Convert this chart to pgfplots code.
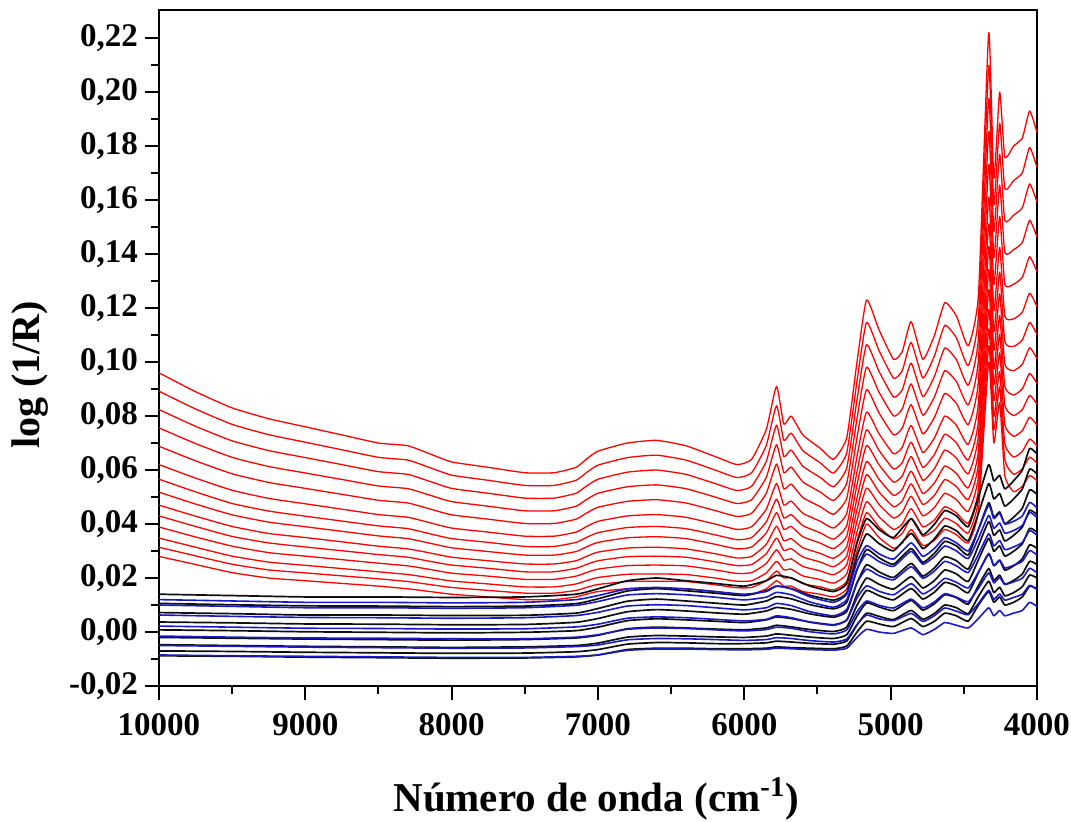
\documentclass[border=0pt]{standalone}
\usepackage{fontspec}
\setmainfont{Liberation Serif}
\usepackage{pgfplots}
\usepackage{pgfplotstable}
\pgfplotsset{compat=1.18}

% red spectra (top to bottom)
\pgfplotstableread{
x r1 r2 r3 r4 r5 r6 r7 r8 r9 r10 r11 r12 r13 r14
10000 0.096 0.0892 0.0824 0.0756 0.0688 0.062 0.0566 0.0518 0.0470 0.043 0.0389 0.0348 0.0314 0.028
9750 0.089 0.0826 0.0762 0.0698 0.0634 0.057 0.0519 0.0474 0.0429 0.0391 0.0352 0.0314 0.0282 0.025
9500 0.083 0.0769 0.0708 0.0647 0.0586 0.0525 0.0476 0.0434 0.0391 0.0354 0.0318 0.0281 0.0251 0.022
9250 0.079 0.0731 0.0672 0.0613 0.0554 0.0495 0.0448 0.0407 0.0365 0.033 0.0294 0.0259 0.023 0.020
9000 0.076 0.0703 0.0646 0.0589 0.0532 0.0475 0.0429 0.039 0.035 0.0315 0.0281 0.0247 0.0219 0.019
8750 0.073 0.0675 0.062 0.0565 0.051 0.0455 0.0411 0.0373 0.0334 0.0301 0.0268 0.0235 0.0208 0.018
8500 0.070 0.0647 0.0594 0.0541 0.0488 0.0435 0.0393 0.0356 0.0318 0.0287 0.0255 0.0223 0.0197 0.017
8300 0.069 0.0637 0.0584 0.0531 0.0478 0.0425 0.0383 0.0346 0.0308 0.0277 0.0245 0.0213 0.0187 0.016
8150 0.066 0.0609 0.0558 0.0507 0.0456 0.0405 0.0364 0.0329 0.0293 0.0262 0.0232 0.0201 0.0176 0.015
8000 0.063 0.0581 0.0532 0.0483 0.0434 0.0385 0.0346 0.0312 0.0277 0.0248 0.0218 0.0189 0.0165 0.014
7750 0.061 0.0562 0.0514 0.0466 0.0418 0.037 0.0332 0.0298 0.0264 0.0236 0.0207 0.0178 0.0154 0.013
7500 0.059 0.0543 0.0496 0.0449 0.0402 0.0355 0.0317 0.0285 0.0252 0.0223 0.0195 0.0167 0.0144 0.012
7300 0.059 0.0543 0.0496 0.0449 0.0402 0.0355 0.0317 0.0285 0.0252 0.0223 0.0195 0.0167 0.0144 0.012
7150 0.061 0.0562 0.0514 0.0466 0.0418 0.037 0.0332 0.0298 0.0264 0.0236 0.0207 0.0178 0.0154 0.013
7080 0.064 0.059 0.054 0.049 0.044 0.039 0.035 0.0315 0.028 0.025 0.022 0.019 0.0165 0.014
7000 0.067 0.0618 0.0566 0.0514 0.0462 0.041 0.0368 0.0332 0.0296 0.0264 0.0233 0.0202 0.0176 0.015
6800 0.070 0.0646 0.0592 0.0538 0.0484 0.043 0.0387 0.0349 0.0311 0.0279 0.0246 0.0214 0.0187 0.016
6600 0.071 0.0655 0.06 0.0545 0.049 0.0435 0.0391 0.0353 0.0314 0.0281 0.0248 0.0215 0.0188 0.016
6400 0.069 0.0637 0.0584 0.0531 0.0478 0.0425 0.0383 0.0346 0.0308 0.0277 0.0245 0.0213 0.0187 0.016
6200 0.065 0.06 0.055 0.05 0.045 0.04 0.036 0.0325 0.029 0.026 0.023 0.02 0.0175 0.015
6050 0.062 0.0572 0.0524 0.0476 0.0428 0.038 0.0342 0.0308 0.0274 0.0246 0.0217 0.0188 0.0164 0.014
5950 0.064 0.059 0.054 0.049 0.044 0.039 0.035 0.0315 0.028 0.025 0.022 0.019 0.0165 0.014
5850 0.075 0.0691 0.0632 0.0573 0.0514 0.0455 0.0408 0.0367 0.0325 0.029 0.0254 0.0219 0.019 0.016
5780 0.091 0.0838 0.0766 0.0694 0.0622 0.055 0.0492 0.0442 0.0392 0.0348 0.0305 0.0262 0.0226 0.019
5730 0.077 0.071 0.065 0.059 0.053 0.047 0.0422 0.038 0.0338 0.0302 0.0266 0.023 0.020 0.017
5680 0.080 0.0737 0.0674 0.0611 0.0548 0.0485 0.0435 0.0391 0.0346 0.0309 0.0271 0.0233 0.0202 0.017
5600 0.073 0.0672 0.0614 0.0556 0.0498 0.044 0.0394 0.0353 0.0312 0.0278 0.0243 0.0208 0.0179 0.015
5480 0.068 0.0626 0.0572 0.0518 0.0464 0.041 0.0367 0.0329 0.0291 0.0259 0.0226 0.0194 0.0167 0.014
5390 0.064 0.0589 0.0538 0.0487 0.0436 0.0385 0.0344 0.0309 0.0273 0.0242 0.0212 0.0181 0.0156 0.013
5300 0.072 0.0664 0.0608 0.0552 0.0496 0.044 0.0395 0.0356 0.0317 0.0283 0.025 0.0216 0.0188 0.016
5230 0.100 0.093 0.086 0.079 0.072 0.065 0.0594 0.0545 0.0496 0.0454 0.0412 0.037 0.0335 0.030
5165 0.123 0.1147 0.1064 0.0981 0.0898 0.0815 0.0749 0.0691 0.0632 0.0583 0.0533 0.0483 0.0442 0.040
5080 0.112 0.1043 0.0966 0.0889 0.0812 0.0735 0.0673 0.062 0.0566 0.0519 0.0473 0.0427 0.0389 0.035
4980 0.101 0.094 0.087 0.08 0.073 0.066 0.0604 0.0555 0.0506 0.0464 0.0422 0.038 0.0345 0.031
4920 0.104 0.0969 0.0898 0.0827 0.0756 0.0685 0.0628 0.0579 0.0529 0.0486 0.0444 0.0401 0.0366 0.033
4860 0.115 0.1073 0.0996 0.0919 0.0842 0.0765 0.0703 0.065 0.0596 0.0549 0.0503 0.0457 0.0419 0.038
4780 0.101 0.0941 0.0872 0.0803 0.0734 0.0665 0.061 0.0562 0.0513 0.0472 0.043 0.0389 0.0355 0.032
4700 0.110 0.1024 0.0948 0.0872 0.0796 0.072 0.0659 0.0606 0.0553 0.0507 0.0462 0.0416 0.0378 0.034
4630 0.122 0.1136 0.1052 0.0968 0.0884 0.08 0.0733 0.0674 0.0615 0.0565 0.0514 0.0464 0.0422 0.038
4550 0.117 0.1089 0.1008 0.0927 0.0846 0.0765 0.07 0.0644 0.0587 0.0538 0.049 0.0441 0.0401 0.036
4470 0.106 0.0987 0.0914 0.0841 0.0768 0.0695 0.0637 0.0586 0.0534 0.0491 0.0447 0.0403 0.0367 0.033
4400 0.125 0.117 0.109 0.101 0.093 0.085 0.0786 0.073 0.0674 0.0626 0.0578 0.053 0.049 0.045
4330 0.222 0.2098 0.1976 0.1854 0.1732 0.161 0.1512 0.1427 0.1342 0.1268 0.1195 0.1122 0.1061 0.100
4295 0.168 0.1582 0.1484 0.1386 0.1288 0.119 0.1112 0.1043 0.0974 0.0916 0.0857 0.0798 0.0749 0.070
4255 0.200 0.1885 0.177 0.1655 0.154 0.1425 0.1333 0.1253 0.1172 0.1103 0.1034 0.0965 0.0908 0.085
4220 0.176 0.1642 0.1524 0.1406 0.1288 0.117 0.1076 0.0993 0.091 0.084 0.0769 0.0698 0.0639 0.058
4160 0.180 0.1672 0.1544 0.1416 0.1288 0.116 0.1058 0.0968 0.0878 0.0802 0.0725 0.0648 0.0584 0.052
4100 0.183 0.1701 0.1572 0.1443 0.1314 0.1185 0.1082 0.0992 0.0901 0.0824 0.0746 0.0669 0.0605 0.054
4050 0.193 0.1795 0.166 0.1525 0.139 0.1255 0.1147 0.1053 0.0958 0.0877 0.0796 0.0715 0.0648 0.058
4000 0.185 0.1721 0.1592 0.1463 0.1334 0.1205 0.1102 0.1012 0.0921 0.0844 0.0766 0.0689 0.0625 0.056
}\redtab

% black (k) and blue (u) spectra
\pgfplotstableread{
x k1 k2 k3 k4 k5 k6 k7 k8 k9 u1 u2 u3 u4 u5 u6 u7
10000 0.014 0.0106 0.0072 0.0037 0.0008 -0.002 -0.0047 -0.007 -0.0088 0.012 0.01 0.0063 0.0022 -0.0015 -0.005 -0.0085
9500 0.0135 0.0101 0.0068 0.0034 0.0005 -0.0023 -0.005 -0.0072 -0.009 0.0115 0.0095 0.0058 0.0018 -0.0019 -0.0053 -0.0088
9000 0.013 0.0097 0.0063 0.003 0.0001 -0.0026 -0.0053 -0.0075 -0.0093 0.011 0.009 0.0054 0.0014 -0.0022 -0.0056 -0.009
8500 0.013 0.0096 0.0063 0.0029 -0.0001 -0.0028 -0.0055 -0.0077 -0.0095 0.011 0.009 0.0053 0.0013 -0.0023 -0.0058 -0.0092
8000 0.0128 0.0094 0.0061 0.0027 -0.0003 -0.003 -0.0057 -0.0079 -0.0097 0.0108 0.0088 0.0051 0.0011 -0.0025 -0.006 -0.0094
7500 0.013 0.0096 0.0062 0.0028 -0.0001 -0.0028 -0.0055 -0.0078 -0.0096 0.011 0.009 0.0053 0.0012 -0.0025 -0.0059 -0.0094
7150 0.014 0.0105 0.007 0.0036 0.0005 -0.0022 -0.005 -0.0073 -0.0092 0.012 0.0099 0.0061 0.0019 -0.0019 -0.0054 -0.009
7000 0.016 0.0123 0.0087 0.005 0.0018 -0.0012 -0.0041 -0.0065 -0.0085 0.0135 0.0113 0.0073 0.0029 -0.001 -0.0048 -0.0085
6800 0.019 0.0152 0.0114 0.0075 0.0042 0.0012 -0.0019 -0.0045 -0.0065 0.016 0.0137 0.0096 0.0051 0.001 -0.0029 -0.0068
6600 0.020 0.0161 0.0122 0.0083 0.0049 0.0018 -0.0013 -0.0039 -0.006 0.0165 0.0142 0.0101 0.0056 0.0015 -0.0024 -0.0063
6400 0.019 0.0153 0.0115 0.0078 0.0045 0.0015 -0.0015 -0.004 -0.006 0.016 0.0138 0.0098 0.0053 0.0013 -0.0025 -0.0063
6200 0.018 0.0144 0.0107 0.0071 0.004 0.0011 -0.0018 -0.0043 -0.0062 0.015 0.0129 0.009 0.0047 0.0008 -0.0028 -0.0065
6000 0.017 0.0135 0.01 0.0066 0.0035 0.0008 -0.002 -0.0043 -0.0062 0.014 0.0119 0.0082 0.0041 0.0004 -0.0031 -0.0066
5850 0.019 0.0153 0.0115 0.0078 0.0045 0.0015 -0.0015 -0.004 -0.006 0.015 0.0129 0.009 0.0047 0.0009 -0.0028 -0.0064
5780 0.021 0.017 0.0131 0.0091 0.0056 0.0025 -0.0007 -0.0034 -0.0055 0.017 0.0147 0.0106 0.006 0.0018 -0.0021 -0.006
5680 0.020 0.0161 0.0123 0.0084 0.005 0.0019 -0.0012 -0.0037 -0.0058 0.016 0.0138 0.0098 0.0053 0.0014 -0.0024 -0.0062
5550 0.017 0.0136 0.0101 0.0067 0.0037 0.0009 -0.0019 -0.0042 -0.006 0.013 0.0111 0.0075 0.0036 0.0001 -0.0032 -0.0065
5390 0.015 0.0118 0.0086 0.0055 0.0027 0.0002 -0.0024 -0.0045 -0.0062 0.011 0.0092 0.006 0.0025 -0.0007 -0.0037 -0.0067
5300 0.018 0.0145 0.011 0.0076 0.0045 0.0018 -0.001 -0.0033 -0.0052 0.014 0.012 0.0084 0.0044 0.0008 -0.0026 -0.006
5230 0.033 0.0281 0.0231 0.0182 0.0139 0.0099 0.0059 0.0026 0.0 0.026 0.0232 0.0182 0.0126 0.0075 0.0028 -0.002
5165 0.042 0.0363 0.0306 0.0249 0.02 0.0154 0.0108 0.007 0.004 0.032 0.0289 0.0233 0.0171 0.0115 0.0063 0.001
5080 0.038 0.0328 0.0275 0.0223 0.0177 0.0135 0.0093 0.0058 0.003 0.029 0.0261 0.0209 0.0151 0.0099 0.0049 0.0
4980 0.035 0.0301 0.0251 0.0202 0.0159 0.0119 0.0079 0.0046 0.002 0.027 0.0243 0.0193 0.0138 0.0089 0.0042 -0.0005
4860 0.042 0.0365 0.0309 0.0254 0.0205 0.0161 0.0117 0.008 0.005 0.033 0.0299 0.0242 0.0179 0.0122 0.0069 0.0015
4780 0.036 0.0309 0.0258 0.0207 0.0163 0.0122 0.0081 0.0047 0.002 0.028 0.0251 0.0199 0.0141 0.0089 0.0039 -0.001
4700 0.040 0.0346 0.0292 0.0238 0.0191 0.0148 0.0105 0.0069 0.004 0.031 0.028 0.0226 0.0166 0.0112 0.0061 0.001
4630 0.045 0.0393 0.0336 0.0279 0.023 0.0184 0.0138 0.01 0.007 0.035 0.0319 0.0262 0.0199 0.0142 0.0089 0.0035
4550 0.043 0.0375 0.0319 0.0264 0.0215 0.0171 0.0127 0.009 0.006 0.033 0.03 0.0245 0.0184 0.0129 0.0077 0.0025
4470 0.039 0.0338 0.0285 0.0233 0.0187 0.0145 0.0103 0.0068 0.004 0.030 0.0272 0.022 0.0163 0.0112 0.0064 0.0015
4400 0.050 0.044 0.038 0.032 0.0268 0.022 0.0172 0.0132 0.010 0.038 0.0347 0.0288 0.0222 0.0162 0.0106 0.005
4330 0.062 0.055 0.0479 0.0409 0.0347 0.0291 0.0235 0.0188 0.015 0.047 0.0432 0.0364 0.0288 0.0219 0.0155 0.009
4295 0.056 0.0493 0.0425 0.0358 0.0299 0.0245 0.0191 0.0146 0.011 0.042 0.0384 0.0319 0.0247 0.0182 0.0121 0.006
4255 0.058 0.0513 0.0445 0.0378 0.0319 0.0265 0.0211 0.0166 0.013 0.044 0.0404 0.0339 0.0267 0.0202 0.0141 0.008
4220 0.053 0.0466 0.0401 0.0337 0.0281 0.0229 0.0177 0.0134 0.010 0.040 0.0366 0.0305 0.0237 0.0176 0.0118 0.006
4160 0.056 0.0493 0.0425 0.0358 0.0299 0.0245 0.0191 0.0146 0.011 0.041 0.0376 0.0315 0.0247 0.0186 0.0128 0.007
4100 0.060 0.053 0.0459 0.0389 0.0327 0.0271 0.0215 0.0168 0.013 0.043 0.0395 0.0332 0.0262 0.0199 0.014 0.008
4050 0.068 0.0604 0.0527 0.0451 0.0384 0.0323 0.0262 0.0211 0.017 0.048 0.0443 0.0376 0.0302 0.0236 0.0173 0.011
4000 0.066 0.0585 0.051 0.0435 0.037 0.031 0.025 0.02 0.016 0.046 0.0424 0.0358 0.0285 0.0219 0.0157 0.0095
}\lowtab

\definecolor{specred}{RGB}{255,0,0}
\definecolor{specblue}{RGB}{25,25,200}
\definecolor{specblack}{RGB}{15,15,15}

\begin{document}
\begin{tikzpicture}
\begin{axis}[
  scale only axis,
  width=439pt, height=338pt,
  x dir=reverse,
  xmin=4000, xmax=10000,
  ymin=-0.02, ymax=0.2304,
  scaled x ticks=false, scaled y ticks=false,
  xtick={4000,5000,6000,7000,8000,9000,10000},
  xticklabels={4000,5000,6000,7000,8000,9000,10000},
  ytick={-0.02,0,0.02,0.04,0.06,0.08,0.10,0.12,0.14,0.16,0.18,0.20,0.22},
  minor x tick num=1, minor y tick num=1,
  tick align=outside,
  xtick pos=bottom, ytick pos=left,
  major tick length=7pt, minor tick length=4pt,
  every tick/.style={black, line width=1pt},
  axis line style={line width=1.1pt},
  tick label style={font=\bfseries\fontsize{16.5}{19}\selectfont},
  xticklabel style={yshift=-3pt},
  /pgf/number format/assume math mode=true,
  yticklabel style={/pgf/number format/.cd, use comma, fixed, fixed zerofill, precision=2},
  xlabel={Número de onda (cm\textsuperscript{-1})},
  ylabel={log (1/R)},
  xlabel style={font=\bfseries\fontsize{20.5}{24}\selectfont, at={(axis description cs:0.498,-0.186)}, anchor=base},
  ylabel style={font=\bfseries\fontsize{20}{23}\selectfont, at={(axis description cs:-0.147,0.46)}, anchor=center},
  no markers,
  every axis plot/.append style={line join=round, smooth, tension=0.3},
]
\pgfplotsinvokeforeach{1,...,14}{
  \addplot[specred, line width=0.65pt] table[x=x, y=r#1]{\redtab};
}
\pgfplotsinvokeforeach{1,...,9}{
  \addplot[specblack, line width=0.85pt] table[x=x, y=k#1]{\lowtab};
}
\pgfplotsinvokeforeach{1,...,7}{
  \addplot[specblue, line width=0.8pt] table[x=x, y=u#1]{\lowtab};
}
\end{axis}
\pgfresetboundingbox
\path[use as bounding box] (-79.5pt,-67.5pt) rectangle (456pt,343pt);
\end{tikzpicture}
\end{document}
